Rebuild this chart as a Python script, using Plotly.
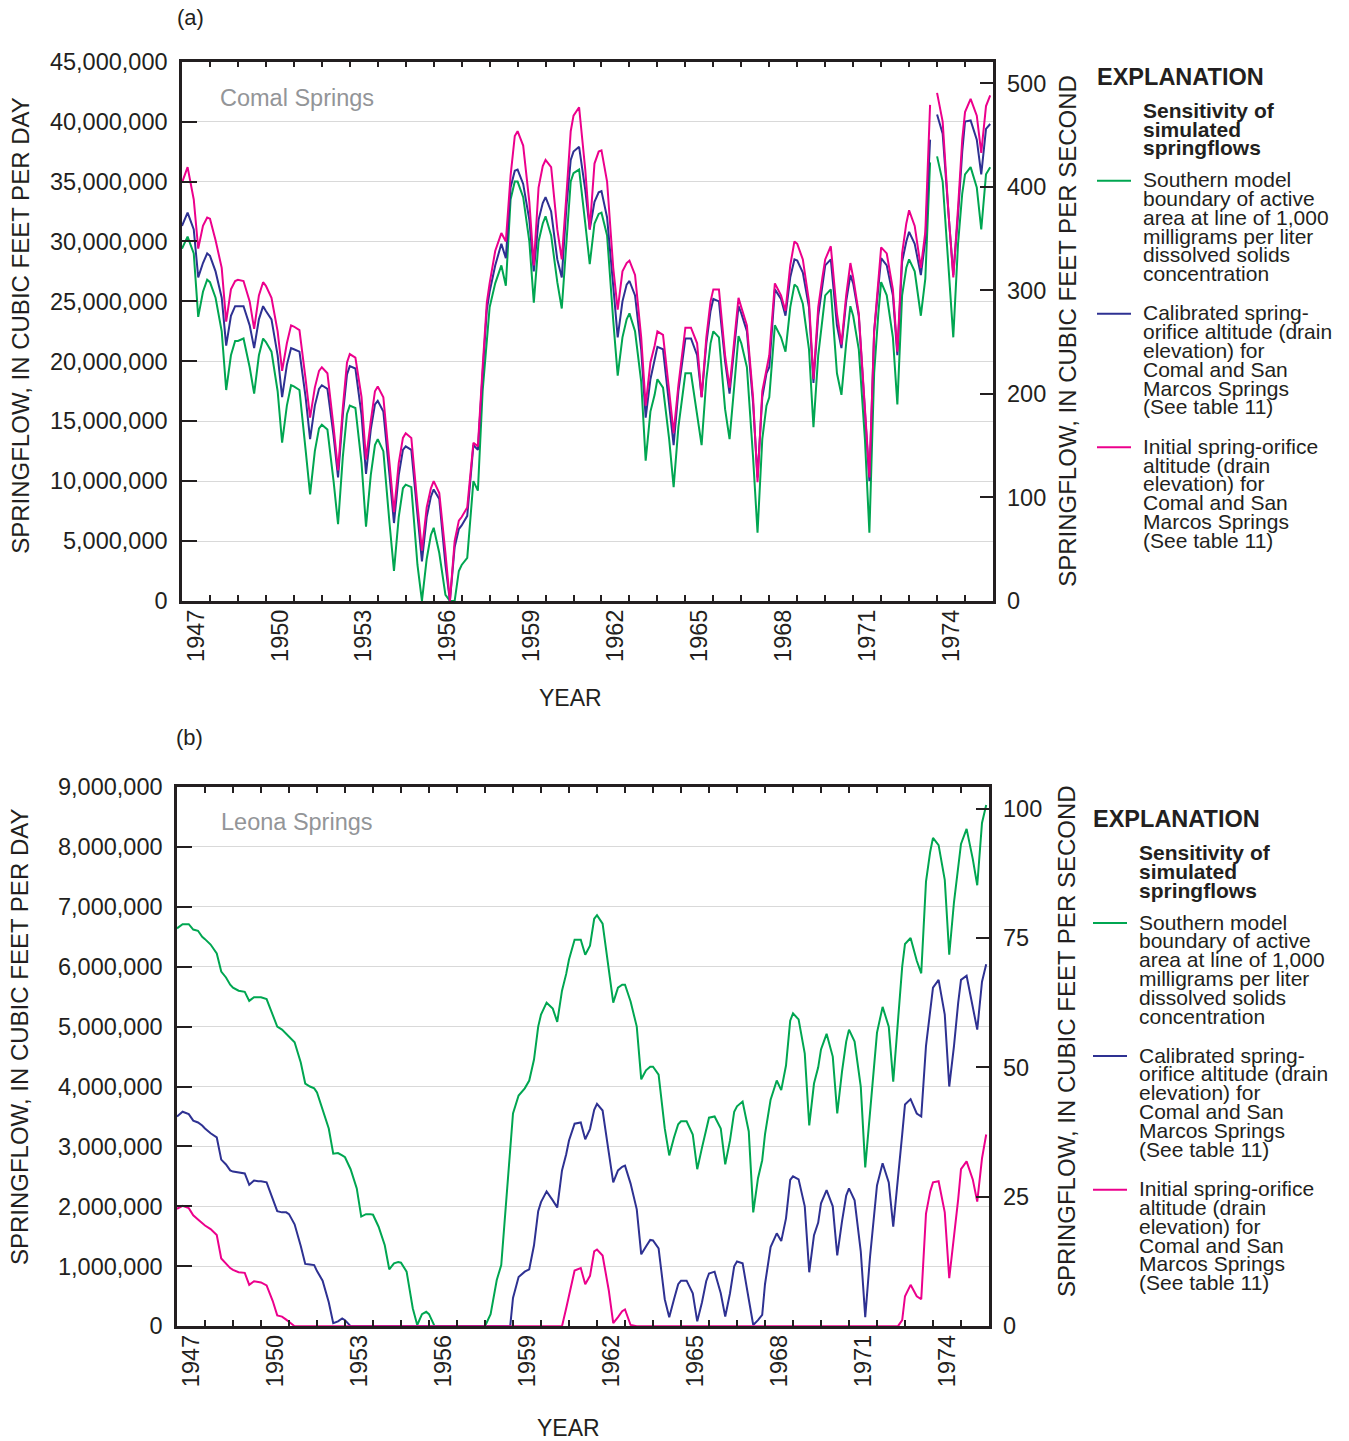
import plotly.graph_objects as go

# ---------------- data ----------------
# Time positions: each year was read at the same fractions of the year
YEARS = list(range(1947, 1976))
READ_OFFSETS = [0.0, 0.2, 0.42, 0.58, 0.75, 0.9]

# (a) Comal Springs, millions of cubic feet per day (None = gap in record)
comal_southern = [
    29.4, 30.4, 29.0, 23.7, 25.8, 26.8,
    26.6, 25.3, 22.5, 17.6, 20.5, 21.7,
    21.7, 21.9, 19.5, 17.3, 20.5, 21.9,
    21.6, 20.8, 17.5, 13.2, 16.3, 18.0,
    17.9, 17.6, 12.6, 8.9, 12.5, 14.4,
    14.7, 14.3, 10.0, 6.4, 12.0, 15.6,
    16.3, 16.1, 11.5, 6.2, 10.5, 13.0,
    13.5, 12.5, 6.5, 2.5, 7.0, 9.4,
    9.7, 9.5, 3.0, 0.0, 3.5, 5.5,
    6.1, 4.0, 0.5, 0.0, 0.0, 2.5,
    3.0, 3.6, 10.0, 9.2, 17.5, 21.4,
    24.5, 26.5, 28.0, 26.3, 33.5, 35.0,
    35.0, 33.7, 30.0, 24.9, 30.0, 31.5,
    32.1, 30.5, 26.6, 24.4, 30.5, 35.0,
    35.7, 36.0, 31.5, 28.1, 31.5, 32.3,
    32.4, 30.5, 23.4, 18.8, 22.0, 23.5,
    24.0, 22.5, 18.3, 11.7, 15.8, 17.2,
    18.5, 17.8, 13.5, 9.5, 14.5, 17.0,
    19.0, 19.0, 15.5, 13.0, 18.5, 21.5,
    22.5, 22.0, 16.0, 13.5, 18.0, 22.1,
    21.5, 19.5, 12.0, 5.7, 13.5, 16.3,
    17.0, 23.0, 22.0, 20.8, 24.5, 26.4,
    26.2, 24.8, 21.0, 14.5, 20.5, 23.5,
    25.5, 26.0, 19.0, 17.2, 21.5, 24.6,
    23.8, 21.0, 13.5, 5.7, 19.0, 24.0,
    26.6, 25.5, 22.0, 16.4, 25.5, 27.8,
    28.5, 27.5, 23.8, 26.9, 36.6, None,
    37.1, 35.0, 27.5, 22.0, 29.8, 34.0,
    35.6, 36.2, 34.5, 31.0, 35.6, 36.2,
]
comal_calibrated = [
    31.3, 32.4, 31.0, 27.0, 28.2, 29.0,
    28.8, 27.5, 25.3, 21.3, 23.8, 24.6,
    24.6, 24.6, 23.0, 21.1, 23.5, 24.6,
    24.2, 23.5, 20.5, 17.0, 19.7, 21.1,
    21.0, 20.8, 17.0, 13.5, 16.3, 17.7,
    18.0, 17.7, 13.8, 10.3, 15.5, 18.9,
    19.6, 19.4, 15.5, 10.6, 14.3, 16.4,
    16.7, 15.8, 10.5, 6.5, 10.5, 12.6,
    12.9, 12.6, 7.2, 3.3, 7.0, 8.7,
    9.3, 8.5, 3.0, 0.0, 4.5, 6.0,
    6.3, 7.1, 13.0, 12.6, 19.0, 24.3,
    25.8, 28.0, 29.8, 28.6, 34.5, 35.9,
    36.0, 34.8, 31.8, 27.5, 31.8, 33.2,
    33.7, 32.5, 28.5, 27.0, 33.0, 36.8,
    37.5, 37.9, 34.3, 31.0, 33.3, 34.1,
    34.2, 32.0, 26.3, 22.0, 25.0, 26.4,
    26.7, 25.5, 21.0, 15.3, 18.5, 20.0,
    21.2, 21.0, 16.5, 13.0, 17.5, 20.2,
    21.9, 21.9, 20.5, 17.0, 21.5, 24.2,
    25.2, 25.0, 20.0, 17.3, 21.0, 24.6,
    24.0, 22.5, 16.5, 10.3, 17.0, 19.0,
    19.5, 26.0, 25.2, 23.8, 27.0, 28.5,
    28.4, 27.4, 24.5, 18.2, 23.8, 26.3,
    28.0, 28.5, 23.0, 21.1, 25.0, 27.2,
    26.5, 23.8, 15.5, 10.0, 22.5, 26.0,
    28.6, 28.0, 25.5, 20.5, 28.3, 30.0,
    30.8, 29.8, 27.2, 30.1, 38.5, None,
    40.6, 39.0, 32.0, 27.2, 32.2, 37.5,
    40.0, 40.1, 38.5, 35.6, 39.4, 39.8,
]
comal_initial = [
    34.9, 36.2, 33.5, 29.4, 31.3, 32.0,
    31.9, 30.1, 27.8, 23.3, 26.0, 26.7,
    26.8, 26.7, 25.0, 22.7, 25.5, 26.6,
    26.3, 25.3, 22.5, 19.2, 21.5, 23.0,
    22.9, 22.6, 18.5, 15.3, 17.8, 19.2,
    19.5, 19.0, 14.5, 10.9, 16.1, 19.9,
    20.6, 20.3, 17.0, 11.8, 15.0, 17.5,
    17.9, 17.0, 11.5, 7.4, 11.5, 13.6,
    14.0, 13.6, 8.0, 4.2, 7.8, 9.4,
    10.0, 9.0, 4.0, 0.0, 5.0, 6.7,
    7.0, 7.8, 13.2, 12.9, 19.5, 24.9,
    26.5, 29.2, 30.7, 30.0, 35.5, 38.8,
    39.2, 38.0, 33.3, 28.0, 34.5, 36.3,
    36.8, 36.2, 31.0, 28.5, 34.0, 39.2,
    40.5, 41.2, 36.0, 31.0, 36.5, 37.5,
    37.6, 35.0, 27.8, 24.3, 27.5, 28.2,
    28.4, 27.2, 22.0, 16.3, 19.9, 21.3,
    22.5, 22.2, 17.5, 14.0, 18.0, 21.0,
    22.8, 22.8, 21.5, 17.0, 22.0, 25.0,
    26.0, 26.0, 20.5, 17.8, 21.5, 25.3,
    24.5, 23.0, 17.0, 9.9, 17.5, 19.5,
    20.5, 26.5, 25.5, 24.2, 28.0, 30.0,
    29.8, 28.5, 25.0, 18.5, 24.5, 27.0,
    28.5, 29.6, 24.0, 21.4, 25.5, 28.2,
    27.0, 24.0, 16.0, 10.3, 22.5, 26.3,
    29.5, 29.0, 26.0, 20.8, 29.0, 31.5,
    32.6, 31.3, 27.8, 30.8, 41.4, None,
    42.4, 40.0, 32.0, 27.0, 32.8, 38.5,
    40.8, 41.9, 40.5, 37.4, 41.3, 42.2,
]

# (b) Leona Springs, millions of cubic feet per day
leona_southern = [
    6.64, 6.71, 6.71, 6.62, 6.60, 6.50,
    6.46, 6.37, 6.22, 5.92, 5.82, 5.70,
    5.65, 5.60, 5.58, 5.43, 5.49, 5.49,
    5.49, 5.46, 5.20, 5.00, 4.95, 4.88,
    4.83, 4.74, 4.40, 4.05, 4.00, 3.97,
    3.90, 3.62, 3.30, 2.88, 2.89, 2.85,
    2.82, 2.62, 2.30, 1.83, 1.87, 1.87,
    1.86, 1.66, 1.35, 0.95, 1.05, 1.07,
    1.06, 0.91, 0.30, 0.02, 0.20, 0.24,
    0.20, 0.0, 0.0, 0.0, 0.0, 0.0,
    0.0, 0.0, 0.0, 0.0, 0.0, 0.0,
    0.0, 0.20, 0.77, 1.02, 2.00, 2.85,
    3.55, 3.85, 3.97, 4.10, 4.45, 5.00,
    5.20, 5.40, 5.30, 5.08, 5.60, 5.88,
    6.12, 6.45, 6.45, 6.20, 6.35, 6.80,
    6.86, 6.72, 5.90, 5.40, 5.65, 5.70,
    5.70, 5.42, 5.00, 4.12, 4.27, 4.33,
    4.33, 4.20, 3.30, 2.85, 3.15, 3.37,
    3.42, 3.42, 3.20, 2.62, 2.98, 3.30,
    3.48, 3.50, 3.30, 2.70, 3.10, 3.58,
    3.67, 3.75, 3.25, 1.90, 2.47, 2.77,
    3.20, 3.78, 4.10, 3.94, 4.35, 5.10,
    5.22, 5.12, 4.55, 3.35, 4.05, 4.32,
    4.62, 4.88, 4.50, 3.55, 4.25, 4.75,
    4.95, 4.75, 4.00, 2.65, 3.60, 4.43,
    4.90, 5.33, 5.00, 4.08, 5.05, 6.00,
    6.38, 6.48, 6.10, 5.89, 7.42, 7.92,
    8.15, 8.03, 7.45, 6.20, 7.08, 7.70,
    8.05, 8.30, 7.80, 7.36, 8.40, 8.70,
]
leona_calibrated = [
    3.50, 3.58, 3.54, 3.43, 3.40, 3.35,
    3.30, 3.22, 3.15, 2.78, 2.70, 2.60,
    2.58, 2.57, 2.55, 2.36, 2.43, 2.42,
    2.42, 2.40, 2.10, 1.92, 1.90, 1.90,
    1.87, 1.70, 1.34, 1.04, 1.03, 1.02,
    0.92, 0.76, 0.40, 0.05, 0.08, 0.13,
    0.10, 0.0, 0.0, 0.0, 0.0, 0.0,
    0.0, 0.0, 0.0, 0.0, 0.0, 0.0,
    0.0, 0.0, 0.0, 0.0, 0.0, 0.0,
    0.0, 0.0, 0.0, 0.0, 0.0, 0.0,
    0.0, 0.0, 0.0, 0.0, 0.0, 0.0,
    0.0, 0.0, 0.0, 0.0, 0.0, 0.0,
    0.47, 0.82, 0.91, 0.95, 1.35, 1.92,
    2.07, 2.25, 2.10, 1.98, 2.60, 2.87,
    3.10, 3.38, 3.40, 3.12, 3.29, 3.61,
    3.71, 3.60, 2.90, 2.40, 2.60, 2.66,
    2.68, 2.38, 1.95, 1.20, 1.33, 1.44,
    1.43, 1.30, 0.45, 0.15, 0.45, 0.70,
    0.76, 0.76, 0.55, 0.08, 0.40, 0.75,
    0.88, 0.91, 0.55, 0.16, 0.55, 1.00,
    1.08, 1.05, 0.45, 0.02, 0.10, 0.19,
    0.70, 1.32, 1.55, 1.42, 1.80, 2.44,
    2.50, 2.45, 2.00, 0.90, 1.52, 1.73,
    2.05, 2.27, 2.00, 1.18, 1.75, 2.18,
    2.30, 2.10, 1.25, 0.15, 1.15, 1.95,
    2.35, 2.72, 2.40, 1.66, 2.55, 3.20,
    3.70, 3.79, 3.55, 3.50, 4.68, 5.22,
    5.65, 5.78, 5.20, 4.00, 4.68, 5.40,
    5.78, 5.85, 5.30, 4.95, 5.75, 6.04,
]
leona_initial = [
    1.96, 2.01, 1.97, 1.85, 1.78, 1.72,
    1.68, 1.62, 1.52, 1.13, 1.04, 0.97,
    0.94, 0.90, 0.89, 0.69, 0.75, 0.74,
    0.73, 0.68, 0.42, 0.18, 0.16, 0.11,
    0.07, 0.0, 0.0, 0.0, 0.0, 0.0,
    0.0, 0.0, 0.0, 0.0, 0.0, 0.0,
    0.0, 0.0, 0.0, 0.0, 0.0, 0.0,
    0.0, 0.0, 0.0, 0.0, 0.0, 0.0,
    0.0, 0.0, 0.0, 0.0, 0.0, 0.0,
    0.0, 0.0, 0.0, 0.0, 0.0, 0.0,
    0.0, 0.0, 0.0, 0.0, 0.0, 0.0,
    0.0, 0.0, 0.0, 0.0, 0.0, 0.0,
    0.0, 0.0, 0.0, 0.0, 0.0, 0.0,
    0.0, 0.0, 0.0, 0.0, 0.0, 0.30,
    0.50, 0.93, 0.97, 0.70, 0.84, 1.25,
    1.28, 1.18, 0.60, 0.05, 0.15, 0.25,
    0.28, 0.02, 0.0, 0.0, 0.0, 0.0,
    0.0, 0.0, 0.0, 0.0, 0.0, 0.0,
    0.0, 0.0, 0.0, 0.0, 0.0, 0.0,
    0.0, 0.0, 0.0, 0.0, 0.0, 0.0,
    0.0, 0.0, 0.0, 0.0, 0.0, 0.0,
    0.0, 0.0, 0.0, 0.0, 0.0, 0.0,
    0.0, 0.0, 0.0, 0.0, 0.0, 0.0,
    0.0, 0.0, 0.0, 0.0, 0.0, 0.0,
    0.0, 0.0, 0.0, 0.0, 0.0, 0.0,
    0.0, 0.0, 0.0, 0.0, 0.0, 0.10,
    0.50, 0.69, 0.50, 0.45, 1.88, 2.25,
    2.40, 2.42, 1.90, 0.80, 1.45, 2.12,
    2.62, 2.75, 2.45, 2.08, 2.80, 3.20,
]

YEAR_LABELS = ["1947", "1950", "1953", "1956", "1959", "1962", "1965", "1968", "1971", "1974"]
CFS_TICKS_A = [0, 100, 200, 300, 400, 500]
CFS_TICKS_B = [0, 25, 50, 75, 100]
SERIES_NAMES = [
    "Southern model boundary of active area at line of 1,000 milligrams per liter dissolved solids concentration",
    "Calibrated spring-orifice altitude (drain elevation) for Comal and San Marcos Springs (See table 11)",
    "Initial spring-orifice altitude (drain elevation) for Comal and San Marcos Springs (See table 11)",
]
LEGEND_LINES = [
    ["Southern model", "boundary of active", "area at line of 1,000", "milligrams per liter",
     "dissolved solids", "concentration"],
    ["Calibrated spring-", "orifice altitude (drain", "elevation) for", "Comal and San",
     "Marcos Springs", "(See table 11)"],
    ["Initial spring-orifice", "altitude (drain", "elevation) for", "Comal and San",
     "Marcos Springs", "(See table 11)"],
]

# ---------------- figure ----------------
W, H = 1349, 1441
FONT = "Liberation Sans, Arial, Helvetica, sans-serif"
INK = "#231f20"
COLORS = ["#00a651", "#2e3192", "#ec008c"]
CFD_PER_CFS = 86400.0

def px(x):
    return x / W

def py(y):
    # page-y (pixels from top) -> paper fraction, with a small vertical calibration
    yy = (y - 13.3) / 0.9816
    return 1 - yy / H

x_time = [yr + off for yr in YEARS for off in READ_OFFSETS]

def to_cfd(vals):
    return [None if v is None else v * 1e6 for v in vals]

fig = go.Figure()

panels = [
    dict(xa="x", ya="y", series=[comal_southern, comal_calibrated, comal_initial]),
    dict(xa="x2", ya="y2", series=[leona_southern, leona_calibrated, leona_initial]),
]
for p in panels:
    for name, vals, col in zip(SERIES_NAMES, p["series"], COLORS):
        fig.add_trace(go.Scatter(
            x=x_time, y=to_cfd(vals), mode="lines", name=name,
            line=dict(color=col, width=2), connectgaps=False,
            xaxis=p["xa"], yaxis=p["ya"], showlegend=False, hoverinfo="skip"))

# dummy traces so that the helper axes (labels / right scales) are drawn
for xa, ya in [("x3", "y"), ("x", "y3"), ("x4", "y2"), ("x2", "y4")]:
    fig.add_trace(go.Scatter(x=[None], y=[None], xaxis=xa, yaxis=ya,
                             showlegend=False, hoverinfo="skip"))

tickfont = dict(family=FONT, size=23.5, color=INK)

def frame_x(domain, anchor):
    return dict(domain=domain, anchor=anchor, range=[1947, 1976],
                tickvals=list(range(1948, 1976)), ticks="inside", ticklen=6,
                tickwidth=1.5, tickcolor=INK, showticklabels=False,
                showline=True, linewidth=2.5, linecolor=INK, mirror="ticks",
                showgrid=False, zeroline=False)

def label_x(overlay, anchor):
    return dict(overlaying=overlay, anchor=anchor, side="bottom", range=[1947, 1976],
                tickvals=[int(t) + 0.5 for t in YEAR_LABELS], ticktext=YEAR_LABELS,
                tickangle=-90, ticks="", showline=False, showgrid=False,
                zeroline=False, tickfont=tickfont, ticklabelstandoff=3)

def left_y(domain, anchor, top, step):
    n = int(round(top / step))
    return dict(domain=domain, anchor=anchor, range=[0, top],
                tickvals=[i * step for i in range(n + 1)], tickformat=",d",
                ticks="inside", ticklen=15, tickwidth=1.5, tickcolor=INK,
                showgrid=True, gridcolor="#d9d9d9", gridwidth=1.3,
                showline=True, linewidth=2.5, linecolor=INK, mirror=True,
                zeroline=False, tickfont=tickfont, ticklabelstandoff=7)

def right_y(overlay, anchor, top_cfd, ticks):
    return dict(overlaying=overlay, anchor=anchor, side="right",
                range=[0, top_cfd / CFD_PER_CFS], tickvals=ticks,
                ticks="inside", ticklen=13, tickwidth=1.5, tickcolor=INK,
                showgrid=False, showline=False, zeroline=False,
                tickfont=tickfont, ticklabelstandoff=13)

dom_ax = [px(182), px(993)]
dom_ay = [py(601), py(62)]
dom_bx = [px(177), px(989)]
dom_by = [py(1326), py(787)]

fig.update_layout(
    width=W, height=H, margin=dict(l=0, r=0, t=0, b=0),
    paper_bgcolor="white", plot_bgcolor="white", showlegend=False,
    font=dict(family=FONT, color=INK),
    xaxis=frame_x(dom_ax, "y"),
    xaxis3=label_x("x", "y"),
    yaxis=left_y(dom_ay, "x", 45e6, 5e6),
    yaxis3=right_y("y", "x", 45e6, CFS_TICKS_A),
    xaxis2=frame_x(dom_bx, "y2"),
    xaxis4=label_x("x2", "y2"),
    yaxis2=left_y(dom_by, "x2", 9e6, 1e6),
    yaxis4=right_y("y2", "x2", 9e6, CFS_TICKS_B),
)

ann = []
def text(x, y, s, size=23, color=INK, xanchor="left", angle=0, bold=False):
    if bold:
        s = "<b>" + s + "</b>"
    ann.append(dict(x=px(x), y=py(y), xref="paper", yref="paper", text=s,
                    showarrow=False, xanchor=xanchor, yanchor="middle",
                    textangle=angle, font=dict(family=FONT, size=size, color=color)))

# panel labels and titles
text(190, 18, "(a)", 22, xanchor="center")
text(189, 738, "(b)", 22, xanchor="center")
text(218, 98, "Comal Springs", 23.5, color="#939598")
text(219, 822, "Leona Springs", 23.5, color="#939598")
text(21, 326, "SPRINGFLOW, IN CUBIC FEET PER DAY", 24, xanchor="center", angle=-90)
text(19, 1037, "SPRINGFLOW, IN CUBIC FEET PER DAY", 24, xanchor="center", angle=-90)
text(1068, 331, "SPRINGFLOW, IN CUBIC FEET PER SECOND", 24, xanchor="center", angle=-90)
text(1066, 1041, "SPRINGFLOW, IN CUBIC FEET PER SECOND", 24, xanchor="center", angle=-90)
text(570, 698, "YEAR", 23, xanchor="center")
text(568, 1428, "YEAR", 23, xanchor="center")

# explanation blocks
shapes = []
LINE_STEP = 18.8
ENTRY_TOPS = [180, 313, 446.5]
for dx, dy in [(0, 0), (-4, 742)]:
    text(1095 + dx, 77 + dy, "EXPLANATION", 23.5, bold=True)
    for i, s in enumerate(["Sensitivity of", "simulated", "springflows"]):
        text(1141 + dx, 110.5 + dy + i * LINE_STEP, s, 21, bold=True)
    for lines, top, col in zip(LEGEND_LINES, ENTRY_TOPS, COLORS):
        shapes.append(dict(type="line", xref="paper", yref="paper",
                           x0=px(1097 + dx), x1=px(1131 + dx),
                           y0=py(top + 1 + dy), y1=py(top + 1 + dy),
                           line=dict(color=col, width=2)))
        for i, s in enumerate(lines):
            text(1141 + dx, top + dy + i * LINE_STEP, s, 21)

fig.update_layout(annotations=ann, shapes=shapes)
fig.write_html("out.html", config={"displayModeBar": False},
               post_script="document.body.style.margin='0px';document.body.style.overflow='hidden';")
